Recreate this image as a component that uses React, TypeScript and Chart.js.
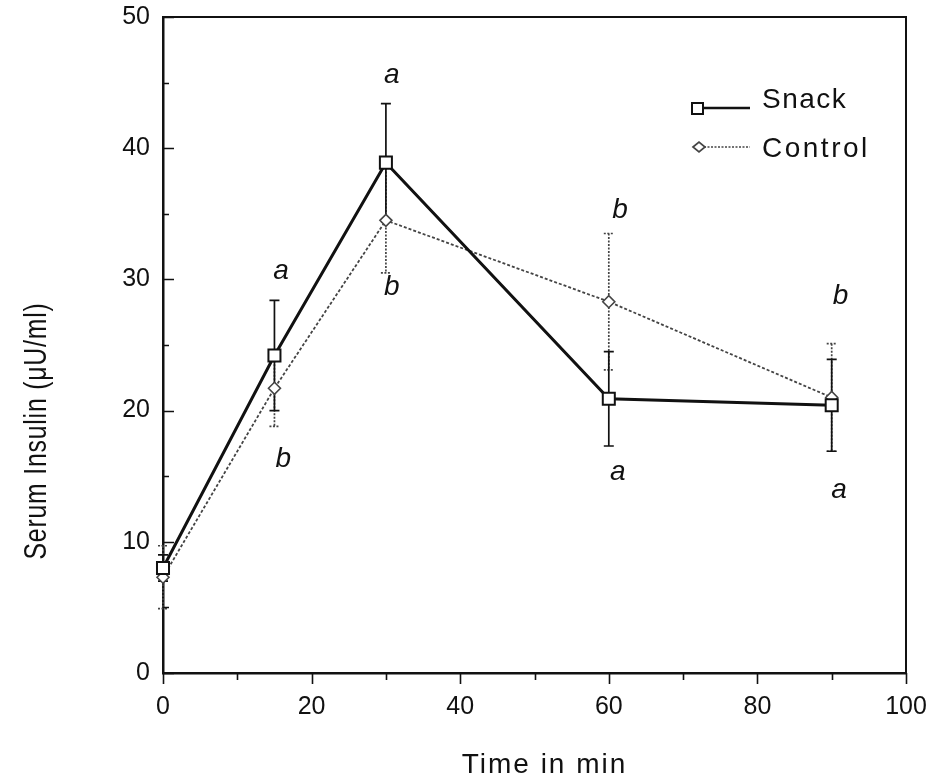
import React, { useEffect, useRef } from "react";
import { Chart, registerables } from "chart.js";

Chart.register(...registerables);

// ---- data ----
const times = [0, 15, 30, 60, 90];
const snackValues = [8.0, 24.2, 38.9, 20.9, 20.4];
const snackErrors = [1.0, 4.2, 4.5, 3.6, 3.5];
const controlValues = [7.3, 21.7, 34.5, 28.3, 21.0];
const controlErrors = [2.4, 2.9, 4.0, 5.2, 4.1];

const xTickStep = 20;
const xMinorStep = 10;
const yTickStep = 10;
const yMinorStep = 5;

const letterTexts = ["a", "b", "a", "b", "b", "a", "b", "a"];
const letterTimes = [15.9, 16.2, 30.8, 30.8, 61.5, 61.2, 91.2, 91.0];
const letterValues = [30.6, 16.3, 45.6, 29.4, 35.3, 15.3, 28.7, 13.9];

const seriesNames = ["Snack", "Control"];
const xTitle = "Time in min";
const yTitle = "Serum Insulin (\u03bcU/ml)";

const FONT = '"Liberation Sans", Arial, sans-serif';
const INK = "#111";
const CTRL = "#444";

const decorPlugin = {
  id: "decor",
  beforeDatasetsDraw(chart: any) {
    const { ctx } = chart;
    const xs = chart.scales.x;
    const ys = chart.scales.y;
    const drawErr = (vals: number[], errs: number[], color: string, dash: number[], w: number) => {
      ctx.save();
      ctx.strokeStyle = color;
      ctx.lineWidth = w;
      ctx.setLineDash(dash);
      vals.forEach((v, i) => {
        const px = xs.getPixelForValue(times[i]);
        const top = ys.getPixelForValue(v + errs[i]);
        const bot = ys.getPixelForValue(v - errs[i]);
        ctx.beginPath();
        ctx.moveTo(px, top);
        ctx.lineTo(px, bot);
        ctx.moveTo(px - 5, top);
        ctx.lineTo(px + 5, top);
        ctx.moveTo(px - 5, bot);
        ctx.lineTo(px + 5, bot);
        ctx.stroke();
      });
      ctx.restore();
    };
    drawErr(controlValues, controlErrors, CTRL, [2, 1.5], 1.7);
    drawErr(snackValues, snackErrors, INK, [], 1.7);
  },
  afterDraw(chart: any) {
    const { ctx, chartArea } = chart;
    const xs = chart.scales.x;
    const ys = chart.scales.y;
    const { left, right, top, bottom } = chartArea;

    // frame
    ctx.save();
    ctx.strokeStyle = INK;
    ctx.lineWidth = 2;
    ctx.beginPath();
    ctx.moveTo(left, top);
    ctx.lineTo(right, top);
    ctx.lineTo(right, bottom);
    ctx.stroke();

    // ticks
    ctx.lineWidth = 1.6;
    ctx.beginPath();
    for (let v = ys.min; v <= ys.max + 1e-6; v += yMinorStep) {
      const py = Math.round(ys.getPixelForValue(v)) + 0.5;
      const len = Math.abs(v % yTickStep) < 1e-6 ? 11 : 6;
      ctx.moveTo(left, py);
      ctx.lineTo(left + len, py);
    }
    for (let v = xs.min; v <= xs.max + 1e-6; v += xMinorStep) {
      const px = Math.round(xs.getPixelForValue(v)) + 0.5;
      const len = Math.abs(v % xTickStep) < 1e-6 ? 11 : 7;
      ctx.moveTo(px, bottom);
      ctx.lineTo(px, bottom + len);
    }
    ctx.stroke();
    ctx.restore();

    // axis titles
    ctx.save();
    ctx.fillStyle = INK;
    ctx.font = `28px ${FONT}`;
    (ctx as any).letterSpacing = "2px";
    ctx.textAlign = "center";
    ctx.textBaseline = "alphabetic";
    ctx.fillText(xTitle, (left + right) / 2 + 10, 773);
    ctx.restore();

    ctx.save();
    ctx.fillStyle = INK;
    ctx.translate(46, (top + bottom) / 2 + 86);
    ctx.rotate(-Math.PI / 2);
    ctx.scale(0.8, 1);
    ctx.font = `31px ${FONT}`;
    (ctx as any).letterSpacing = "1px";
    ctx.textAlign = "center";
    ctx.textBaseline = "alphabetic";
    ctx.fillText(yTitle, 0, 0);
    ctx.restore();

    // significance letters
    ctx.save();
    ctx.fillStyle = INK;
    ctx.font = `italic 28px ${FONT}`;
    ctx.textAlign = "center";
    ctx.textBaseline = "middle";
    letterTexts.forEach((t, i) => {
      ctx.fillText(t, xs.getPixelForValue(letterTimes[i]), ys.getPixelForValue(letterValues[i]));
    });
    ctx.restore();

    // legend
    ctx.save();
    const lx0 = right - 213;
    const lx1 = right - 156;
    const tx = right - 144;
    const row1 = top + 91;
    const row2 = top + 130;
    ctx.strokeStyle = INK;
    ctx.lineWidth = 2.5;
    ctx.beginPath();
    ctx.moveTo(lx0, row1);
    ctx.lineTo(lx1, row1);
    ctx.stroke();
    ctx.fillStyle = "#fff";
    ctx.lineWidth = 2;
    ctx.fillRect(lx0 - 1, row1 - 5, 11, 11);
    ctx.strokeRect(lx0 - 1, row1 - 5, 11, 11);

    ctx.strokeStyle = CTRL;
    ctx.lineWidth = 1.7;
    ctx.setLineDash([2, 1.5]);
    ctx.beginPath();
    ctx.moveTo(lx0 + 4, row2);
    ctx.lineTo(lx1, row2);
    ctx.stroke();
    ctx.setLineDash([]);
    ctx.beginPath();
    const dx = lx0 + 6;
    ctx.moveTo(dx - 6, row2);
    ctx.lineTo(dx, row2 - 5);
    ctx.lineTo(dx + 6, row2);
    ctx.lineTo(dx, row2 + 5);
    ctx.closePath();
    ctx.fill();
    ctx.stroke();

    ctx.fillStyle = INK;
    ctx.font = `28px ${FONT}`;
    (ctx as any).letterSpacing = "1.5px";
    ctx.textAlign = "left";
    ctx.textBaseline = "alphabetic";
    ctx.fillText(seriesNames[0], tx, row1);
    (ctx as any).letterSpacing = "2.5px";
    ctx.fillText(seriesNames[1], tx, row2 + 10);
    ctx.restore();
  },
};

export default function App() {
  const ref = useRef<HTMLCanvasElement | null>(null);
  useEffect(() => {
    if (!ref.current) return;
    const tickFont = { family: FONT, size: 25 };
    const chart = new Chart(ref.current, {
      type: "line",
      data: {
        datasets: [
          {
            label: seriesNames[0],
            data: times.map((t, i) => ({ x: t, y: snackValues[i] })),
            borderColor: INK,
            borderWidth: 3,
            pointStyle: "rect",
            pointRadius: 8.5,
            pointBorderWidth: 2,
            pointBackgroundColor: "#fff",
            pointBorderColor: INK,
            clip: false,
          } as any,
          {
            label: seriesNames[1],
            data: times.map((t, i) => ({ x: t, y: controlValues[i] })),
            borderColor: CTRL,
            borderWidth: 1.8,
            borderDash: [3, 2],
            pointStyle: "rectRot",
            pointRadius: 6,
            pointBorderWidth: 1.6,
            pointBackgroundColor: "#fff",
            pointBorderColor: CTRL,
            clip: false,
          } as any,
        ],
      },
      options: {
        animation: false,
        responsive: false,
        devicePixelRatio: 1,
        layout: { padding: { top: 17, right: 33, left: 0, bottom: 0 } },
        plugins: { legend: { display: false }, tooltip: { enabled: false } },
        scales: {
          x: {
            type: "linear",
            min: 0,
            max: 100,
            afterFit: (s: any) => {
              s.height = 109;
              s.paddingLeft = 0;
              s.paddingRight = 0;
              s.paddingTop = 0;
              s.paddingBottom = 0;
            },
            ticks: { stepSize: xTickStep, padding: 19, color: INK, font: tickFont },
            grid: { display: false, drawTicks: false },
            border: { display: true, color: INK, width: 2.5 },
          },
          y: {
            type: "linear",
            min: 0,
            max: 50,
            afterFit: (s: any) => {
              s.width = 163;
              s.paddingLeft = 0;
              s.paddingRight = 0;
              s.paddingTop = 0;
              s.paddingBottom = 0;
            },
            ticks: { stepSize: yTickStep, padding: 13, color: INK, font: tickFont },
            grid: { display: false, drawTicks: false },
            border: { display: true, color: INK, width: 2.5 },
          },
        },
      } as any,
      plugins: [decorPlugin],
    });
    return () => chart.destroy();
  }, []);
  return (
    <div style={{ position: "absolute", left: 0, top: 0, width: 939, height: 782, background: "#fff" }}>
      <canvas ref={ref} width={939} height={782} style={{ display: "block" }} />
    </div>
  );
}
